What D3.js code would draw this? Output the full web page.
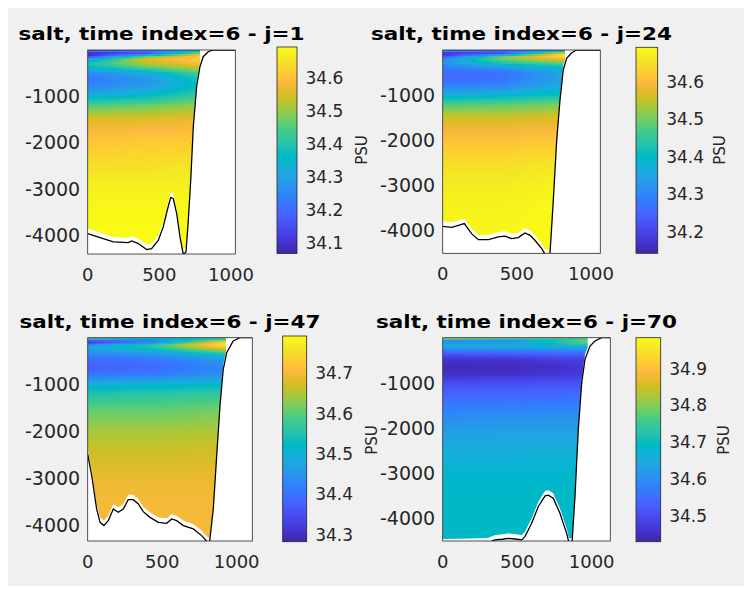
<!DOCTYPE html>
<html>
<head>
<meta charset="utf-8">
<script src="https://cdn.jsdelivr.net/npm/d3@7"></script>
<style>
body { margin: 0; background: #fff; }
text { font-family: "DejaVu Sans", sans-serif; fill: #262626; }
</style>
</head>
<body>
<svg id="fig" width="751" height="593"></svg>
<script>
// ---- data ----
var panelTitles = ["salt, time index=6 - j=1", "salt, time index=6 - j=24",
	"salt, time index=6 - j=47", "salt, time index=6 - j=70"];

// depth levels (m) of the salinity profiles
var depthLevels = [0, -40, -80, -120, -160, -200, -300, -400, -500, -650, -800,
	-1000, -1200, -1500, -2000, -2500, -3000, -3500, -4600];

// salinity (PSU) profiles at a few along-section distances (km)
var saltX1 = [0, 400, 800];
var salt1 = [
	[34.26, 34.14, 34.08, 34.09, 34.18, 34.30, 34.40, 34.33, 34.25, 34.22, 34.25, 34.34, 34.45, 34.56, 34.61, 34.65, 34.68, 34.69, 34.70],
	[34.28, 34.16, 34.15, 34.35, 34.50, 34.55, 34.52, 34.43, 34.32, 34.27, 34.29, 34.37, 34.47, 34.56, 34.62, 34.65, 34.68, 34.69, 34.70],
	[34.30, 34.38, 34.55, 34.62, 34.64, 34.63, 34.59, 34.52, 34.45, 34.38, 34.38, 34.43, 34.50, 34.57, 34.62, 34.66, 34.68, 34.69, 34.70]
];
var saltX2 = [0, 400, 820];
var salt2 = [
	[34.36, 34.22, 34.17, 34.18, 34.24, 34.30, 34.32, 34.28, 34.26, 34.26, 34.29, 34.37, 34.47, 34.56, 34.61, 34.65, 34.67, 34.68, 34.69],
	[34.32, 34.20, 34.22, 34.38, 34.50, 34.50, 34.42, 34.32, 34.27, 34.27, 34.30, 34.39, 34.48, 34.56, 34.61, 34.65, 34.67, 34.68, 34.69],
	[34.30, 34.44, 34.62, 34.67, 34.65, 34.59, 34.48, 34.40, 34.36, 34.35, 34.37, 34.42, 34.50, 34.57, 34.62, 34.66, 34.68, 34.69, 34.69]
];
var saltX3 = [0, 450, 920];
var salt3 = [
	[34.68, 34.45, 34.30, 34.34, 34.45, 34.48, 34.45, 34.41, 34.39, 34.38, 34.41, 34.50, 34.55, 34.60, 34.645, 34.67, 34.69, 34.70, 34.70],
	[34.55, 34.48, 34.37, 34.50, 34.57, 34.56, 34.49, 34.43, 34.40, 34.39, 34.42, 34.51, 34.56, 34.60, 34.645, 34.67, 34.69, 34.70, 34.70],
	[34.50, 34.58, 34.70, 34.77, 34.77, 34.73, 34.60, 34.50, 34.45, 34.43, 34.45, 34.52, 34.57, 34.61, 34.65, 34.675, 34.69, 34.70, 34.70]
];
var saltX4 = [0, 500, 970];
var salt4 = [
	[34.90, 34.70, 34.56, 34.62, 34.66, 34.64, 34.56, 34.49, 34.455, 34.44, 34.45, 34.50, 34.53, 34.57, 34.625, 34.66, 34.68, 34.69, 34.69],
	[34.85, 34.68, 34.57, 34.64, 34.67, 34.65, 34.57, 34.50, 34.46, 34.445, 34.455, 34.505, 34.535, 34.575, 34.63, 34.66, 34.68, 34.69, 34.69],
	[34.72, 34.76, 34.80, 34.78, 34.72, 34.66, 34.58, 34.52, 34.48, 34.465, 34.47, 34.51, 34.54, 34.58, 34.63, 34.665, 34.68, 34.69, 34.69]
];

// bathymetry along each section (km, m)
var bathyX1 = [0, 86, 179, 283, 307, 353, 411, 446, 493, 527, 555, 579, 597, 621, 644, 667, 686, 702, 719, 737, 760, 783, 806, 841, 876, 1030];
var bathyZ1 = [-3960, -4046, -4140, -4155, -4118, -4175, -4305, -4283, -4104, -3816, -3456, -3182, -3203, -3527, -4032, -4406, -4356, -3672, -2808, -1656, -792, -360, -145, -37, 0, 0];
var bathyX2 = [0, 61, 106, 146, 195, 240, 308, 375, 420, 465, 510, 555, 589, 622, 668, 690, 723, 746, 769, 791, 813, 836, 870, 903, 1063];
var bathyZ2 = [-3920, -3942, -3900, -3860, -4083, -4216, -4216, -4157, -4140, -4194, -4172, -4068, -4120, -4231, -4417, -4540, -4560, -3340, -2004, -1114, -445, -186, -60, 0, 0];
var bathyX3 = [0, 27, 60, 83, 109, 138, 172, 205, 239, 272, 306, 340, 373, 418, 474, 530, 564, 597, 642, 709, 765, 805, 818, 843, 866, 888, 910, 933, 977, 1022, 1105];
var bathyZ3 = [-2481, -2943, -3651, -3936, -4006, -3900, -3651, -3722, -3651, -3453, -3453, -3545, -3709, -3830, -3936, -3957, -3864, -3900, -4006, -4077, -4219, -4360, -4360, -3651, -2517, -1453, -673, -319, -70, 0, 0];
var bathyX4 = [0, 300, 351, 400, 440, 485, 530, 552, 597, 642, 687, 709, 742, 787, 832, 848, 868, 888, 910, 933, 955, 989, 1022, 1067, 1125];
var bathyZ4 = [-4560, -4540, -4470, -4455, -4435, -4450, -4470, -4397, -4102, -3732, -3495, -3480, -3547, -3880, -4324, -4540, -4540, -3510, -2031, -998, -479, -184, -73, 0, 0];

// last model column that carries data (km)
var wetEdge = [784, 825, 928, 973];
var xMax = [1030, 1063, 1105, 1125];
var zMin = [-4400, -4520, -4334, -4494];

var cLim1 = [34.067, 34.695], cTicks1 = [34.1, 34.2, 34.3, 34.4, 34.5, 34.6];
var cLim2 = [34.143, 34.692], cTicks2 = [34.2, 34.3, 34.4, 34.5, 34.6];
var cLim3 = [34.283, 34.792], cTicks3 = [34.3, 34.4, 34.5, 34.6, 34.7];
var cLim4 = [34.43, 34.984], cTicks4 = [34.5, 34.6, 34.7, 34.8, 34.9];

var xTicks = [0, 500, 1000];
var yTicks = [-4000, -3000, -2000, -1000];

// MATLAB parula(64)
var parula = [
	"#3e26a8", "#402ab4", "#422ec0", "#4332cb", "#4537d5", "#463cde", "#4741e5", "#4747eb",
	"#484df0", "#4852f4", "#4758f8", "#465efb", "#4563fd", "#4269fe", "#3e6fff", "#3875fe",
	"#327cfc", "#2f81fa", "#2e87f7", "#2d8cf3", "#2b91ef", "#2797eb", "#259be8", "#23a0e5",
	"#20a5e3", "#1ca9df", "#18addb", "#12b1d6", "#08b5d0", "#01b8ca", "#02bac3", "#0bbdbd",
	"#19bfb6", "#24c1ae", "#2cc4a7", "#31c69f", "#37c897", "#3fca8e", "#4acb84", "#57cc7a",
	"#64cd6f", "#72cd64", "#81cc59", "#8fcb4e", "#9dc943", "#abc739", "#b9c431", "#c5c22a",
	"#d1bf27", "#dcbd29", "#e6bb2d", "#f0ba36", "#f8ba3d", "#febe3c", "#fec338", "#fec934",
	"#fccf30", "#fad62d", "#f7dc2a", "#f5e327", "#f5e924", "#f6ef20", "#f7f51b", "#f9fb15"
];

// ---- layout (pixels) ----
var layout = [
	{x0: 87.7, x1: 235.3, y0: 50, y1: 254, cb: [277, 297, 47, 253.5], psu: [362, 150], titleY: 39.5},
	{x0: 442.7, x1: 600.3, y0: 50, y1: 253.3, cb: [636, 657.7, 47.3, 253.3], psu: [720, 150], titleY: 39.5},
	{x0: 87.7, x1: 252.3, y0: 337.7, y1: 541, cb: [282.7, 306.7, 336, 541.7], psu: [372, 440], titleY: 327.7},
	{x0: 442.7, x1: 610.3, y0: 337.7, y1: 541, cb: [636, 660.7, 337.7, 541.7], psu: [724, 440], titleY: 327.7}
];

var panels = [
	{saltX: saltX1, salt: salt1, bx: bathyX1, bz: bathyZ1, clim: cLim1, cticks: cTicks1},
	{saltX: saltX2, salt: salt2, bx: bathyX2, bz: bathyZ2, clim: cLim2, cticks: cTicks2},
	{saltX: saltX3, salt: salt3, bx: bathyX3, bz: bathyZ3, clim: cLim3, cticks: cTicks3},
	{saltX: saltX4, salt: salt4, bx: bathyX4, bz: bathyZ4, clim: cLim4, cticks: cTicks4}
];

var svg = d3.select("#fig");
var defs = svg.append("defs");

svg.append("rect")
	.attr("x", 8).attr("y", 8)
	.attr("width", 736).attr("height", 578)
	.attr("fill", "#f0f0f0");

var cell = 2;
var gapPx = 5;

panels.forEach(function(p, i) {
	var L = layout[i];
	var xScale = d3.scaleLinear().domain([0, xMax[i]]).range([L.x0, L.x1]);
	var yScale = d3.scaleLinear().domain([zMin[i], 0]).range([L.y1, L.y0]);
	var stops = parula.map(function(c, k) {
		return p.clim[0] + (p.clim[1] - p.clim[0]) * k / (parula.length - 1);
	});
	var color = d3.scaleLinear().domain(stops).range(parula).clamp(true);
	var colScales = p.salt.map(function(col) {
		return d3.scaleLinear().domain(depthLevels).range(col).clamp(true);
	});
	var bathy = d3.scaleLinear().domain(p.bx).range(p.bz);

	var G = svg.append("g");

	// axes background
	G.append("rect")
		.attr("x", L.x0).attr("y", L.y0)
		.attr("width", L.x1 - L.x0).attr("height", L.y1 - L.y0)
		.attr("fill", "#ffffff");

	// wet region clip
	var edge = wetEdge[i];
	var pts = [[xScale(0), yScale(0)], [xScale(edge), yScale(0)],
		[xScale(edge), yScale(bathy(edge)) - gapPx]];
	for (var k = p.bx.length - 1; k >= 0; k--) {
		if (p.bx[k] < edge) pts.push([xScale(p.bx[k]), yScale(p.bz[k]) - gapPx]);
	}
	defs.append("clipPath").attr("id", "wet" + i)
		.append("path").attr("d", d3.line()(pts) + "Z");
	defs.append("clipPath").attr("id", "ax" + i)
		.append("rect")
		.attr("x", L.x0).attr("y", L.y0)
		.attr("width", L.x1 - L.x0).attr("height", L.y1 - L.y0);

	// salinity cells
	var cells = [];
	for (var py = L.y0; py < L.y1; py += cell) {
		var z = yScale.invert(py + cell / 2);
		var row = colScales.map(function(s) { return s(z); });
		var across = d3.scaleLinear().domain(p.saltX).range(row).clamp(true);
		for (var px = L.x0; px < xScale(edge) + cell; px += cell) {
			var x = xScale.invert(px + cell / 2);
			cells.push({x: px, y: py, v: across(x)});
		}
	}
	G.append("g")
		.attr("clip-path", "url(#ax" + i + ")")
		.append("g")
		.attr("clip-path", "url(#wet" + i + ")")
		.selectAll("rect")
		.data(cells)
		.join("rect")
		.attr("x", function(d) { return d.x; })
		.attr("y", function(d) { return d.y; })
		.attr("width", cell + 0.4)
		.attr("height", cell + 0.4)
		.attr("fill", function(d) { return color(d.v); });

	// bathymetry line
	G.append("path")
		.datum(p.bx.map(function(x, k) { return [x, p.bz[k]]; }))
		.attr("clip-path", "url(#ax" + i + ")")
		.attr("d", d3.line()
			.x(function(d) { return xScale(d[0]); })
			.y(function(d) { return yScale(d[1]); }))
		.attr("fill", "none")
		.attr("stroke", "#000")
		.attr("stroke-width", 1.3);

	// box
	G.append("rect")
		.attr("x", L.x0).attr("y", L.y0)
		.attr("width", L.x1 - L.x0).attr("height", L.y1 - L.y0)
		.attr("fill", "none")
		.attr("stroke", "#262626")
		.attr("stroke-width", 0.8);

	// tick labels
	G.selectAll(".xt").data(xTicks).join("text")
		.attr("x", function(d) { return xScale(d); })
		.attr("y", L.y1 + 20.5)
		.attr("dy", "0.35em")
		.attr("text-anchor", "middle")
		.style("font-size", "18px")
		.text(function(d) { return d; });
	G.selectAll(".yt").data(yTicks).join("text")
		.attr("x", L.x0 - 7.5)
		.attr("y", function(d) { return yScale(d); })
		.attr("dy", "0.35em")
		.attr("text-anchor", "end")
		.style("font-size", "19px")
		.text(function(d) { return d; });

	// title
	G.append("text")
		.attr("transform", "translate(" + ((L.x0 + L.x1) / 2) + "," + L.titleY + ") scale(1.22,1)")
		.attr("text-anchor", "middle")
		.style("font-size", "17.6px")
		.style("font-weight", "bold")
		.style("fill", "#000")
		.text(panelTitles[i]);

	// colorbar
	var grad = defs.append("linearGradient").attr("id", "cb" + i)
		.attr("x1", 0).attr("y1", 1).attr("x2", 0).attr("y2", 0);
	grad.selectAll("stop").data(parula).join("stop")
		.attr("offset", function(d, k) { return k / (parula.length - 1); })
		.attr("stop-color", function(d) { return d; });
	var cScale = d3.scaleLinear().domain(p.clim).range([L.cb[3], L.cb[2]]);
	G.append("rect")
		.attr("x", L.cb[0]).attr("y", L.cb[2])
		.attr("width", L.cb[1] - L.cb[0]).attr("height", L.cb[3] - L.cb[2])
		.attr("fill", "url(#cb" + i + ")")
		.attr("stroke", "#262626")
		.attr("stroke-width", 0.8);
	G.selectAll(".ct").data(p.cticks).join("text")
		.attr("x", L.cb[1] + 8.5)
		.attr("y", function(d) { return cScale(d); })
		.attr("dy", "0.35em")
		.style("font-size", "17px")
		.text(function(d) { return d3.format(".1f")(d); });
	G.append("text")
		.attr("transform", "translate(" + L.psu[0] + "," + L.psu[1] + ") rotate(-90)")
		.attr("text-anchor", "middle")
		.attr("dy", "0.35em")
		.style("font-size", "15px")
		.text("PSU");
});
</script>
</body>
</html>
